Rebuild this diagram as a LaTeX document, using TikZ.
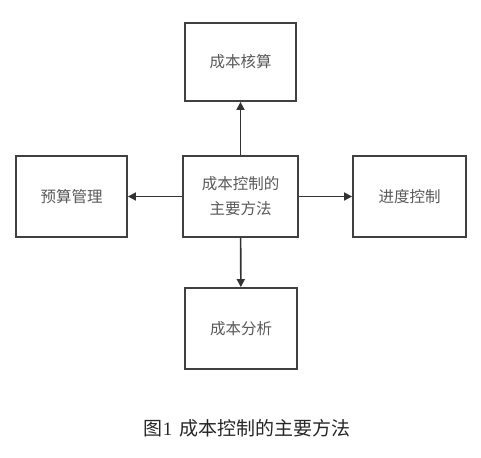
\documentclass[tikz,border=0pt]{standalone}
\usepackage{fontspec}
\newfontfamily\cjk{Noto Sans CJK SC}
\newfontfamily\capfont{Liberation Serif}
\usetikzlibrary{arrows.meta}
\begin{document}
\begin{tikzpicture}[x=1pt,y=-1pt,
  box/.style={draw=black!75,line width=1.8pt,fill=white,inner sep=0pt,
    text=black!65,font=\cjk\fontsize{15.5}{25}\selectfont,align=center},
  conn/.style={draw=black!80,line width=1.6pt,-{Triangle[length=8pt,width=8pt]}}]
\useasboundingbox (0,0) rectangle (481,457);
\node[box,minimum width=111pt,minimum height=78pt] (top) at (240.5,62) {成本核算};
\node[box,minimum width=111pt,minimum height=81pt] (left) at (71.5,196.5) {预算管理};
\node[box,minimum width=115pt,minimum height=81pt] (ctr) at (240.5,196.5) {成本控制的\\主要方法};
\node[box,minimum width=113pt,minimum height=81pt] (right) at (409.5,196.5) {进度控制};
\node[box,minimum width=112pt,minimum height=81pt] (bot) at (241,328.5) {成本分析};
\draw[conn] (ctr) -- (top);
\draw[conn] (ctr) -- (left);
\draw[conn] (ctr) -- (right);
\draw[conn] (ctr) -- (bot);
\node[font=\fontsize{19}{22}\selectfont,text=black!85,inner sep=0pt] (cap) at (247,428) {\cjk 图\capfont 1\hspace{7pt}\cjk 成本控制的主要方法};
\end{tikzpicture}
\end{document}
